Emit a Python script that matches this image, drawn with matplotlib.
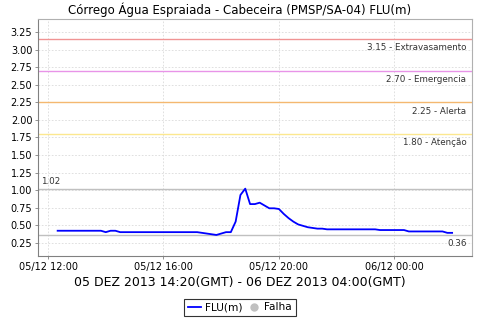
import matplotlib
matplotlib.use("Agg")
import matplotlib.pyplot as plt
import matplotlib.dates as mdates
from matplotlib.lines import Line2D
import pandas as pd

# Dados (hora local, intervalos de 10 min)
inicio = "2013-12-05 12:20"
fim = "2013-12-06 02:00"
flu = [
    0.42, 0.42, 0.42, 0.42, 0.42, 0.42, 0.42, 0.42, 0.42, 0.42,   # 12:20 - 13:50
    0.40, 0.42, 0.42,                                               # 14:00 - 14:20
    0.40, 0.40, 0.40, 0.40, 0.40, 0.40, 0.40, 0.40,                 # 14:30 - 15:40
    0.40, 0.40, 0.40, 0.40, 0.40, 0.40, 0.40, 0.40,                 # 15:50 - 17:00
    0.40, 0.39, 0.38, 0.37, 0.36, 0.38, 0.40, 0.40,                 # 17:10 - 18:20
    0.55, 0.93, 1.02, 0.80, 0.80, 0.82, 0.78, 0.74, 0.74,           # 18:30 - 19:50
    0.73, 0.66, 0.60, 0.55, 0.51, 0.49, 0.47, 0.46, 0.45, 0.45,     # 20:00 - 21:30
    0.44, 0.44, 0.44, 0.44, 0.44, 0.44, 0.44, 0.44, 0.44, 0.44, 0.44,  # 21:40 - 23:20
    0.43, 0.43, 0.43, 0.43, 0.43, 0.43,                             # 23:30 - 00:20
    0.41, 0.41, 0.41, 0.41, 0.41, 0.41, 0.41, 0.41,                 # 00:30 - 01:40
    0.39, 0.39,                                                     # 01:50 - 02:00
]
horas = pd.date_range(inicio, fim, freq="10min")

# Cotas de referencia
cotas = [3.15, 2.70, 2.25, 1.80]
nomes_cotas = ["Extravasamento", "Emergencia", "Alerta", "Atenção"]
cores_cotas = ["#f09494", "#e894e8", "#f4b870", "#fce890"]
maximo = 1.02
minimo = 0.36

titulo = "Córrego Água Espraiada - Cabeceira (PMSP/SA-04) FLU(m)"
periodo = "05 DEZ 2013 14:20(GMT) - 06 DEZ 2013 04:00(GMT)"

plt.rcParams["font.family"] = "DejaVu Sans"
fig = plt.figure(figsize=(4.8, 3.2), dpi=100)
ax = fig.add_axes([0.079, 0.2, 0.904, 0.741])

ax.grid(True, color="#dadada", linestyle=(0, (2, 2)), linewidth=0.6)
ax.set_axisbelow(True)

for valor, nome, cor in zip(cotas, nomes_cotas, cores_cotas):
    ax.axhline(valor, color=cor, linewidth=1.0)
    ax.annotate("%.2f - %s" % (valor, nome), xy=(1, valor),
                xycoords=ax.get_yaxis_transform(), xytext=(-4, -3),
                textcoords="offset points", ha="right", va="top",
                fontsize=6.3, color="#333333")

ax.axhline(maximo, color="#c0c0c0", linewidth=1.0)
ax.annotate("%.2f" % maximo, xy=(0, maximo), xycoords=ax.get_yaxis_transform(),
            xytext=(2, 2), textcoords="offset points", ha="left", va="bottom",
            fontsize=6.3, color="#333333")
ax.axhline(minimo, color="#c0c0c0", linewidth=1.0)
ax.annotate("%.2f" % minimo, xy=(1, minimo), xycoords=ax.get_yaxis_transform(),
            xytext=(-4, -3), textcoords="offset points", ha="right", va="top",
            fontsize=6.3, color="#333333")

ax.plot(horas, flu, color="#0000ff", linewidth=1.3)

ax.margins(x=0.05)
ax.set_ylim(0.06, 3.44)
ax.set_yticks([0.25 * i for i in range(1, 14)])
ax.yaxis.set_major_formatter(plt.FormatStrFormatter("%.2f"))
ax.xaxis.set_major_locator(mdates.HourLocator(byhour=[0, 4, 8, 12, 16, 20]))
ax.xaxis.set_major_formatter(mdates.DateFormatter("%d/%m %H:%M"))
ax.tick_params(labelsize=7, length=2, width=0.6, color="#808080", pad=2)

for lado in ["top", "right"]:
    ax.spines[lado].set_color("#b0b0b0")
for lado in ["left", "bottom"]:
    ax.spines[lado].set_color("#808080")

fig.text(0.5, 0.97, titulo, ha="center", va="center", fontsize=8.5)
fig.text(0.5, 0.118, periodo, ha="center", va="center", fontsize=9)

itens = [Line2D([], [], color="#0000ff", linewidth=1.3),
         Line2D([], [], color="#c0c0c0", marker="o", linestyle="none", markersize=5)]
leg = fig.legend(itens, ["FLU(m)", "Falha"], loc="center", bbox_to_anchor=(0.5, 0.04),
                 ncol=2, fontsize=7.6, frameon=True, fancybox=False,
                 handlelength=1.2, handletextpad=0.4, columnspacing=0.5,
                 borderpad=0.35, borderaxespad=0)
leg.get_frame().set_edgecolor("black")
leg.get_frame().set_linewidth(0.8)

fig.savefig("out.png", dpi=100)
